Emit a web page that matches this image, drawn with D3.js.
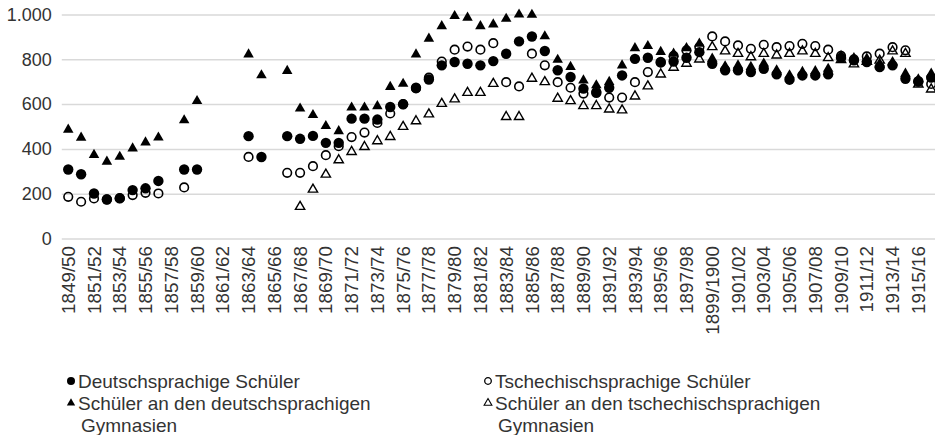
<!DOCTYPE html>
<html>
<head>
<meta charset="utf-8">
<script src="https://cdn.jsdelivr.net/npm/d3@7"></script>
<style>
  html, body { margin: 0; padding: 0; background: #fff; }
  svg { display: block; }
  text { font-family: "Liberation Sans", Arial, sans-serif; fill: #333; }
</style>
</head>
<body>
<div id="chart"></div>
<script>
// ---------------- DATA ----------------
const categories = [
  "1849/50","1850/51","1851/52","1852/53","1853/54","1854/55","1855/56","1856/57","1857/58","1858/59",
  "1859/60","1860/61","1861/62","1862/63","1863/64","1864/65","1865/66","1866/67","1867/68","1868/69",
  "1869/70","1870/71","1871/72","1872/73","1873/74","1874/75","1875/76","1876/77","1877/78","1878/79",
  "1879/80","1880/81","1881/82","1882/83","1883/84","1884/85","1885/86","1886/87","1887/88","1888/89",
  "1889/90","1890/91","1891/92","1892/93","1893/94","1894/95","1895/96","1896/97","1897/98","1898/99",
  "1899/1900","1900/01","1901/02","1902/03","1903/04","1904/05","1905/06","1906/07","1907/08","1908/09",
  "1909/10","1910/11","1911/12","1912/13","1913/14","1914/15","1915/16","1916/17"
];

// Deutschsprachige Schüler (filled circles)
const deutschSchueler = [
  308,287,201,174,179,216,224,257,null,308,
  308,null,null,null,457,364,null,457,445,458,
  427,427,535,535,531,587,599,673,710,773,
  788,780,773,792,825,880,902,837,751,721,
  669,650,673,728,802,807,788,790,807,832,
  780,751,751,743,758,733,709,728,728,733,
  807,795,788,765,773,713,702,718
];

// Tschechischsprachige Schüler (open circles)
const tschechSchueler = [
  186,164,179,175,180,194,204,201,null,228,
  null,null,null,null,364,null,null,293,293,323,
  372,412,453,473,516,558,600,670,718,790,
  843,857,843,872,698,679,825,773,698,673,
  647,655,629,629,698,743,785,815,840,854,
  902,880,862,847,865,854,859,869,859,843,
  815,800,813,825,854,840,700,690
];

// Schüler an den deutschsprachigen Gymnasien (filled triangles)
const deutschGymnasien = [
  486,450,373,343,365,402,429,451,null,528,
  614,null,null,null,822,729,null,748,580,551,
  502,479,585,585,591,677,691,822,892,948,
  993,986,948,956,981,1000,999,903,798,766,
  706,684,699,773,850,859,833,825,850,870,
  803,769,773,766,781,751,729,744,747,758,
  815,806,803,781,788,736,711,736
];

// Schüler an den tschechischsprachigen Gymnasien (open triangles)
const tschechGymnasien = [
  null,null,null,null,null,null,null,null,null,null,
  null,null,null,null,null,null,null,null,142,219,
  286,350,387,409,435,454,499,524,555,602,
  622,651,651,691,543,543,714,699,625,614,
  592,592,577,573,635,680,733,763,781,800,
  855,836,825,810,825,818,825,836,825,806,
  798,778,790,795,836,825,688,666
];

const yTicks = [0, 200, 400, 600, 800, 1000];

const seriesNames = [
  "Deutschsprachige Schüler",
  "Tschechischsprachige Schüler",
  "Schüler an den deutschsprachigen Gymnasien",
  "Schüler an den tschechischsprachigen Gymnasien"
];

// ---------------- LAYOUT ----------------
const W = 935, H = 435;
const plot = { left: 61.8, top: 14.5, bottom: 238.5, band: 12.88 };

const svg = d3.select("#chart").append("svg")
  .attr("width", W).attr("height", H);

const x = d3.scaleBand()
  .domain(categories)
  .range([plot.left, plot.left + plot.band * categories.length])
  .padding(0);

const y = d3.scaleLinear().domain([0, 1000]).range([plot.bottom, plot.top]);

const de = d3.formatLocale({ decimal: ",", thousands: ".", grouping: [3], currency: ["", " €"] });
const fmt = de.format(",");

// gridlines + y labels
const yAxis = d3.axisLeft(y)
  .tickValues(yTicks)
  .tickSize(-(W - plot.left + 10))
  .tickPadding(10)
  .tickFormat(fmt);

const gy = svg.append("g").attr("transform", `translate(${plot.left},0)`).call(yAxis);
gy.select(".domain").remove();
gy.selectAll(".tick line").attr("stroke", "#d9d9d9").attr("stroke-width", 1.5);
gy.selectAll(".tick text")
  .attr("font-size", 18)
  .attr("fill", "#333")
  .attr("font-family", "Liberation Sans, Arial, sans-serif");

// x axis labels
const xAxis = d3.axisBottom(x)
  .tickValues(categories.filter((d, i) => i % 2 === 0))
  .tickSize(0)
  .tickPadding(0);

const gx = svg.append("g").attr("transform", `translate(0,${plot.bottom})`).call(xAxis);
gx.select(".domain").remove();
gx.selectAll(".tick text")
  .attr("font-size", 18.8)
  .attr("fill", "#333")
  .attr("font-family", "Liberation Sans, Arial, sans-serif")
  .attr("text-anchor", "end")
  .attr("transform", "rotate(-90)")
  .attr("x", -7.5)
  .attr("y", 0)
  .attr("dy", "0.35em");

// ---------------- MARKERS ----------------
const circleR = 5.2;
const openR = 4.3;
const triSize = 48;

function pts(arr) {
  return arr.map((v, i) => ({ c: categories[i], v })).filter(d => d.v !== null);
}
const cx = d => x(d.c) + x.bandwidth() / 2;

const gMarks = svg.append("g");

// 1: filled circles
gMarks.append("g").selectAll("circle").data(pts(deutschSchueler)).join("circle")
  .attr("cx", cx).attr("cy", d => y(d.v)).attr("r", circleR).attr("fill", "#000");

// 2: open circles
gMarks.append("g").selectAll("circle").data(pts(tschechSchueler)).join("circle")
  .attr("cx", cx).attr("cy", d => y(d.v)).attr("r", openR)
  .attr("fill", "none").attr("stroke", "#000").attr("stroke-width", 1.6);

const tri = d3.symbol().type(d3.symbolTriangle).size(triSize);

// 3: filled triangles
gMarks.append("g").selectAll("path").data(pts(deutschGymnasien)).join("path")
  .attr("d", tri)
  .attr("transform", d => `translate(${cx(d)},${y(d.v)})`)
  .attr("fill", "#000");

// 4: open triangles
const triOpen = d3.symbol().type(d3.symbolTriangle).size(triSize * 0.78);
gMarks.append("g").selectAll("path").data(pts(tschechGymnasien)).join("path")
  .attr("d", triOpen)
  .attr("transform", d => `translate(${cx(d)},${y(d.v)})`)
  .attr("fill", "none").attr("stroke", "#000").attr("stroke-width", 1.4);

// ---------------- LEGEND ----------------
const legend = svg.append("g");
const legendItems = [
  { name: seriesNames[0], lines: ["Deutschsprachige Schüler"], type: "fc", col: 0, row: 0 },
  { name: seriesNames[1], lines: ["Tschechischsprachige Schüler"], type: "oc", col: 1, row: 0 },
  { name: seriesNames[2], lines: ["Schüler an den deutschsprachigen", "Gymnasien"], type: "ft", col: 0, row: 1 },
  { name: seriesNames[3], lines: ["Schüler an den tschechischsprachigen", "Gymnasien"], type: "ot", col: 1, row: 1 }
];
const colX = [71, 488];
const rowY = [381, 403];
const lineH = 22;

legendItems.forEach(it => {
  const g = legend.append("g").attr("transform", `translate(${colX[it.col]},${rowY[it.row]})`);
  if (it.type === "fc") g.append("circle").attr("r", 4).attr("fill", "#000");
  if (it.type === "oc") g.append("circle").attr("r", 3.3).attr("fill", "none").attr("stroke", "#000").attr("stroke-width", 1.3);
  if (it.type === "ft") g.append("path").attr("d", d3.symbol().type(d3.symbolTriangle).size(30)()).attr("fill", "#000");
  if (it.type === "ot") g.append("path").attr("d", d3.symbol().type(d3.symbolTriangle).size(26)()).attr("fill", "none").attr("stroke", "#000").attr("stroke-width", 1.1);
  it.lines.forEach((ln, k) => {
    g.append("text")
      .attr("x", k === 0 ? 7 : 10)
      .attr("y", k * lineH)
      .attr("dy", "0.35em")
      .attr("font-size", 19)
      .text(ln);
  });
});
</script>
</body>
</html>
